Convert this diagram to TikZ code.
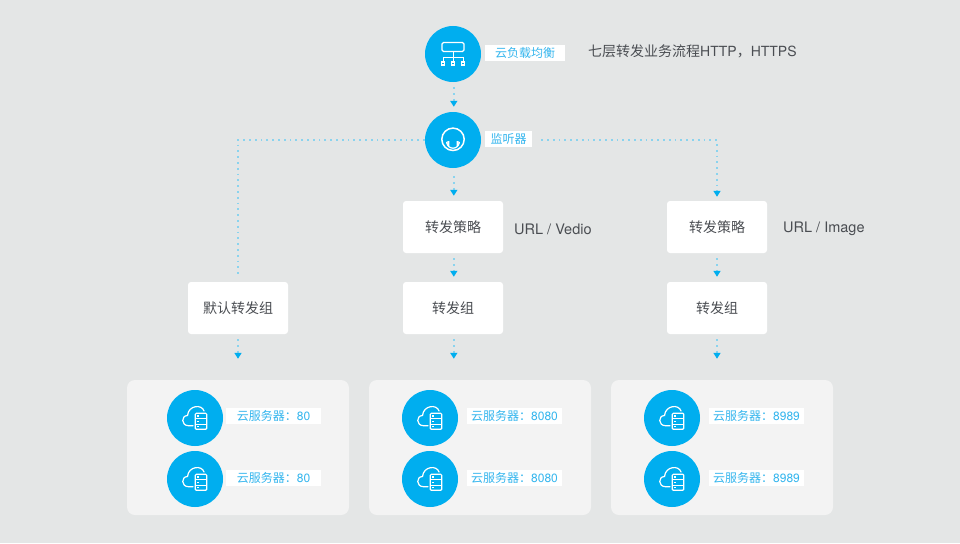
\documentclass[tikz,border=0pt]{standalone}
\usepackage{fontspec}
\usetikzlibrary{arrows.meta}
\setmainfont{TeX Gyre Heros}
\newfontfamily\cjk{Noto Sans CJK SC}
\definecolor{bgcol}{HTML}{E4E6E6}
\definecolor{panelcol}{HTML}{F3F3F3}
\definecolor{bluecol}{HTML}{00AEEF}
\definecolor{dotcol}{HTML}{8AD3EE}
\definecolor{labelcol}{HTML}{35B6EE}
\definecolor{textcol}{HTML}{4A4D52}
\tikzset{
  bubble/.style={circle, fill=bluecol, minimum size=56pt, inner sep=0pt},
  panel/.style={rounded corners=8pt, fill=panelcol, minimum width=222pt, minimum height=135pt, inner sep=0pt},
  whitebox/.style={rounded corners=3pt, fill=white, minimum width=100pt, minimum height=52pt, inner sep=0pt, text=textcol, font=\cjk\fontsize{14}{16}\selectfont},
  tag/.style={fill=white, minimum height=16pt, inner sep=0pt, text=labelcol, font=\cjk\fontsize{12}{14}\selectfont},
  note/.style={text=textcol, inner sep=0pt, font=\fontsize{14}{16}\selectfont},
  url/.style={text=textcol, inner sep=0pt, font=\fontsize{14.5}{16}\selectfont},
  link/.style={dotcol, line width=1.8pt, dash pattern=on 1.8pt off 4pt, -{Triangle[length=6pt,width=7pt,color=bluecol,sep=0pt]}},
  plainlink/.style={dotcol, line width=1.8pt, dash pattern=on 1.8pt off 4pt},
  icon/.style={white, line width=1.2pt},
  lbicon/.pic={
    \draw[icon, rounded corners=1.5pt] (-11,-11.5) rectangle (11,-2.5);
    \draw[icon, line width=1pt] (0,-2.5) -- (0,7) (-10,7) -- (-10,3.5) -- (10,3.5) -- (10,7);
    \foreach \i in {-10,0,10} \fill[white] (\i-2.4,7) rectangle (\i+2.4,11.8);
    \foreach \i in {-10,0,10} \fill[bluecol] (\i-0.8,8.6) rectangle (\i+0.8,10.2);
  },
  earicon/.pic={
    \draw[icon, line width=1.5pt] (0,-0.7) circle (11.2);
    \draw[icon, line width=1.2pt] (-6.2,3.5) -- (-6.2,2) arc[start angle=180, end angle=0, radius=6.2] -- (6.2,3.5);
    \fill[white] (-5.6,1.2) rectangle (-3.6,5.8) (3.6,1.2) rectangle (5.6,5.8);
  },
  cloudicon/.pic={
    \draw[icon, line cap=round] (-2,7.7) -- (-6.5,7.7) .. controls (-14,7.7) and (-14,-2.5) .. (-7.5,-2.5)
      .. controls (-6.5,-13) and (7,-14) .. (9,-7);
    \draw[icon, fill=bluecol, rounded corners=1pt] (0.3,-4.7) rectangle (11.7,11.3);
    \draw[icon, line width=1pt] (0.3,0.6) -- (11.7,0.6) (0.3,6) -- (11.7,6);
    \foreach \j in {-2,3.3,8.6} \fill[white] (2.4,\j-0.6) rectangle (3.6,\j+0.6);
  }
}

\begin{document}
\begin{tikzpicture}[x=1pt, y=-1pt]
\fill[bgcol] (0,0) rectangle (960,543);
\useasboundingbox (0,0) rectangle (960,543);

% top
\node[bubble] (balancer) at (453,54) {};
\node[bubble] (listener) at (453,140) {};
\pic at (balancer.center) {lbicon};
\pic at (listener.center) {earicon};
\node[tag, minimum width=80pt] (balancertag) at (525,53) {云负载均衡};
\node[tag, minimum width=47pt] (listenertag) at (508.5,139) {监听器};
\node[note, anchor=west] (flow) at (588,51) {{\cjk 七层转发业务流程}HTTP{\cjk ，}HTTPS};

% boxes
\node[whitebox] (policyA) at (453,227) {转发策略};
\node[whitebox] (policyB) at (717,227) {转发策略};
\node[whitebox] (groupD) at (238,308) {默认转发组};
\node[whitebox] (groupA) at (453,308) {转发组};
\node[whitebox] (groupB) at (717,308) {转发组};
\node[url, anchor=west] (urlA) at (514,229) {URL / Vedio};
\node[url, anchor=west] (urlB) at (783,228.5) {URL / Image};

% server panels
\node[panel] (panelD) at (238,447.5) {};
\node[panel] (panelA) at (480,447.5) {};
\node[panel] (panelB) at (722,447.5) {};
\foreach \name/\x/\tagx/\txt in {D/195/273.5/80, A/430/514.5/8080, B/672/756.5/8989} {
  \node[bubble] (srv\name1) at (\x,418) {};
  \node[bubble] (srv\name2) at (\x,479) {};
  \pic at (srv\name1.center) {cloudicon};
  \pic at (srv\name2.center) {cloudicon};
  \node[tag, minimum width=95pt] (tag\name1) at (\tagx,416) {云服务器：{\fontspec{TeX Gyre Heros}\txt}};
  \node[tag, minimum width=95pt] (tag\name2) at (\tagx,478) {云服务器：{\fontspec{TeX Gyre Heros}\txt}};
}

% links
\draw[link, shorten <=5pt, shorten >=5pt] ([xshift=0.8pt]balancer.south) -- ([xshift=0.8pt]listener.north);
\draw[link, shorten <=8pt, shorten >=5pt] ([xshift=0.8pt]listener.south) -- ([xshift=0.8pt]policyA.north);
\draw[link, shorten <=5pt, shorten >=5pt] ([xshift=0.8pt]policyA.south) -- ([xshift=0.8pt]groupA.north);
\draw[link, shorten <=5pt, shorten >=5pt] (policyB) -- (groupB);
\draw[plainlink, shorten >=4pt] (listener.west) -| (groupD.north);
\draw[link, shorten <=9pt, shorten >=4pt] (listenertag.east |- listener) -| (policyB.north);
\foreach \g/\p/\dx in {groupD/panelD/0, groupA/panelA/0.8, groupB/panelB/0}
  \draw[link, shorten <=5pt, shorten >=21pt] ([xshift=\dx pt]\g.south) -- ([xshift=\dx pt]\g.south |- \p.north);
\end{tikzpicture}
\end{document}
